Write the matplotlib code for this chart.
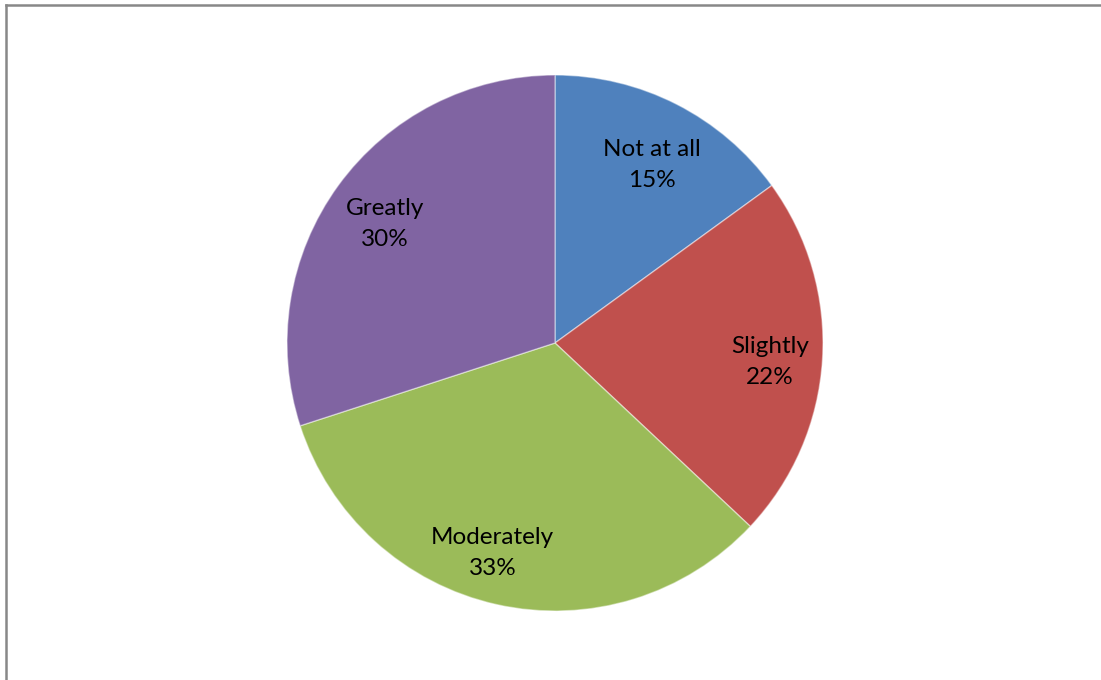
import matplotlib.pyplot as plt
from matplotlib.lines import Line2D
import numpy as np

# Survey responses
categories = ['Not at all', 'Slightly', 'Moderately', 'Greatly']
shares = [15, 22, 33, 30]
colors = ['#4F81BD', '#C0504D', '#9BBB59', '#8064A2']
# where each label sits: fraction of radius, and a small angle nudge (deg)
label_radius = [0.755, 0.805, 0.817, 0.774]
label_nudge = [-1.5, -1.5, -4.0, 1.0]

plt.rcParams['font.family'] = ['Lato', 'DejaVu Sans']

W, H = 1101, 680
fig = plt.figure(figsize=(W / 100, H / 100), dpi=100)
cx, cy, r = 555, 343, 268
ax = fig.add_axes([(cx - r) / W, (H - cy - r) / H, 2 * r / W, 2 * r / H])

wedges, _ = ax.pie(shares, colors=colors, startangle=90, counterclock=False,
                   radius=1, wedgeprops=dict(edgecolor=(1, 1, 1, 0.45), linewidth=1))
ax.set_xlim(-1, 1)
ax.set_ylim(-1, 1)
ax.set_aspect('equal')
ax.axis('off')

# labels inside each slice: name and percentage
for w, name, val, rr, nd in zip(wedges, categories, shares, label_radius, label_nudge):
    mid = np.deg2rad((w.theta1 + w.theta2) / 2 + nd)
    ax.text(rr * np.cos(mid), rr * np.sin(mid), f'{name}\n{val}%',
            ha='center', va='center', fontsize=17.5, color='black', linespacing=1.6)

# chart area border (left and top edges visible)
fig.add_artist(Line2D([5.5 / W, 5.5 / W], [0, 1 - 4.5 / H], transform=fig.transFigure,
                      color='#888888', linewidth=1.8))
fig.add_artist(Line2D([5.5 / W, 1], [1 - 4.5 / H, 1 - 4.5 / H], transform=fig.transFigure,
                      color='#888888', linewidth=1.8))

fig.savefig('out.png', dpi=100)
